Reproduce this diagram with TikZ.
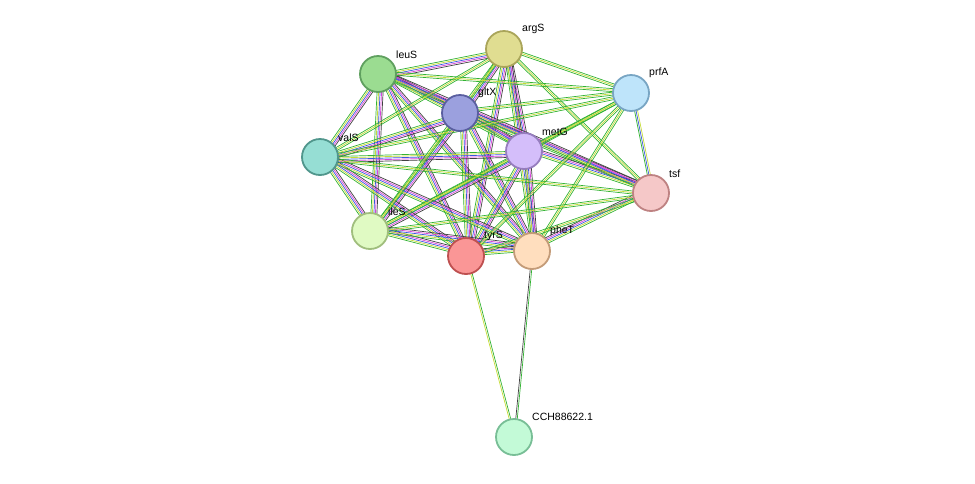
\documentclass[tikz,border=0pt]{standalone}
\usepackage{fontspec}
\setmainfont{Liberation Sans}
\usetikzlibrary{calc}
\definecolor{eg}{HTML}{33B233}
\definecolor{ey}{HTML}{C6DC36}
\definecolor{eb}{HTML}{3A55E0}
\definecolor{em}{HTML}{D843D8}
\definecolor{ek}{HTML}{404040}
\tikzset{
 prot/.style={circle,minimum size=36pt,inner sep=0pt,line width=1.8pt},
 lab/.style={anchor=south west,font=\fontsize{10.5pt}{11pt}\selectfont,inner sep=0pt},
 ed/.style={line width=0.7pt}
}
\newcommand\myedge[3]{%
 \foreach \c [count=\i] in #3{%
  \pgfmathsetmacro\off{(\i-1)*1.5}%
  \draw[ed,\c] ($(#1)!\off pt!90:(#2)$) -- ($(#2)!\off pt!-90:(#1)$);}}
\def\edfull{eg,ey,eb,em,ek}
\def\edmid{eg,ey,eg}
\def\edpf{eg,eb,ey}
\def\edty{ey,eg}
\def\edph{ek,eg}
\begin{document}
\begin{tikzpicture}[x=1pt,y=-1pt]
\useasboundingbox (0,0) rectangle (975,483);
\coordinate (argS) at (504,49);
\coordinate (leuS) at (378,74);
\coordinate (gltX) at (460,113);
\coordinate (prfA) at (631,93);
\coordinate (valS) at (320,157);
\coordinate (metG) at (524,151);
\coordinate (tsf) at (651,193);
\coordinate (ileS) at (370,231);
\coordinate (tyrS) at (466,256);
\coordinate (pheT) at (532,251);
\coordinate (cch) at (514,437);
\foreach \a/\b in {argS/leuS,argS/gltX,argS/metG,argS/tyrS,argS/pheT,leuS/gltX,leuS/metG,leuS/valS,leuS/ileS,leuS/tyrS,leuS/pheT,gltX/metG,gltX/valS,gltX/ileS,gltX/tyrS,gltX/pheT,gltX/tsf,metG/valS,metG/ileS,metG/tyrS,metG/pheT,metG/tsf,valS/ileS,valS/tyrS,valS/pheT,ileS/tyrS,ileS/pheT,tyrS/pheT,pheT/tsf,leuS/tsf}
 {\myedge{\a}{\b}{\edfull}}
\foreach \a/\b in {argS/prfA,argS/tsf,argS/valS,argS/ileS,leuS/prfA,gltX/prfA,prfA/metG,prfA/tyrS,prfA/pheT,prfA/ileS,prfA/valS,tsf/tyrS,tsf/ileS,tsf/valS}
 {\myedge{\a}{\b}{\edmid}}
\myedge{prfA}{tsf}{\edpf}
\myedge{tyrS}{cch}{\edty}
\myedge{pheT}{cch}{\edph}
\node[prot,fill={rgb,255:red,224;green,221;blue,145},draw={rgb,255:red,170;green,165;blue,90}] (nargS) at (argS) {};
\node[prot,fill={rgb,255:red,155;green,220;blue,145},draw={rgb,255:red,95;green,160;blue,95}] (nleuS) at (leuS) {};
\node[prot,fill={rgb,255:red,155;green,160;blue,222},draw={rgb,255:red,90;green,95;blue,160}] (ngltX) at (gltX) {};
\node[prot,fill={rgb,255:red,190;green,228;blue,250},draw={rgb,255:red,120;green,165;blue,195}] (nprfA) at (prfA) {};
\node[prot,fill={rgb,255:red,150;green,222;blue,212},draw={rgb,255:red,80;green,150;blue,140}] (nvalS) at (valS) {};
\node[prot,fill={rgb,255:red,212;green,190;blue,250},draw={rgb,255:red,150;green,125;blue,190}] (nmetG) at (metG) {};
\node[prot,fill={rgb,255:red,245;green,200;blue,200},draw={rgb,255:red,190;green,130;blue,130}] (ntsf) at (tsf) {};
\node[prot,fill={rgb,255:red,224;green,250;blue,195},draw={rgb,255:red,160;green,190;blue,125}] (nileS) at (ileS) {};
\node[prot,fill={rgb,255:red,250;green,150;blue,150},draw={rgb,255:red,190;green,80;blue,80}] (ntyrS) at (tyrS) {};
\node[prot,fill={rgb,255:red,255;green,222;blue,190},draw={rgb,255:red,195;green,155;blue,120}] (npheT) at (pheT) {};
\node[prot,fill={rgb,255:red,195;green,250;blue,215},draw={rgb,255:red,120;green,190;blue,150}] (ncch) at (cch) {};
\node[lab] at (522,34) {argS};
\node[lab] at (396,59) {leuS};
\node[lab] at (478,98) {gltX};
\node[lab] at (649,78) {prfA};
\node[lab] at (338,142) {valS};
\node[lab] at (542,136) {metG};
\node[lab] at (669,178) {tsf};
\node[lab] at (388,216) {ileS};
\node[lab] at (484,241) {tyrS};
\node[lab] at (550,236) {pheT};
\node[lab] at (532,421) {CCH88622.1};
\end{tikzpicture}
\end{document}
